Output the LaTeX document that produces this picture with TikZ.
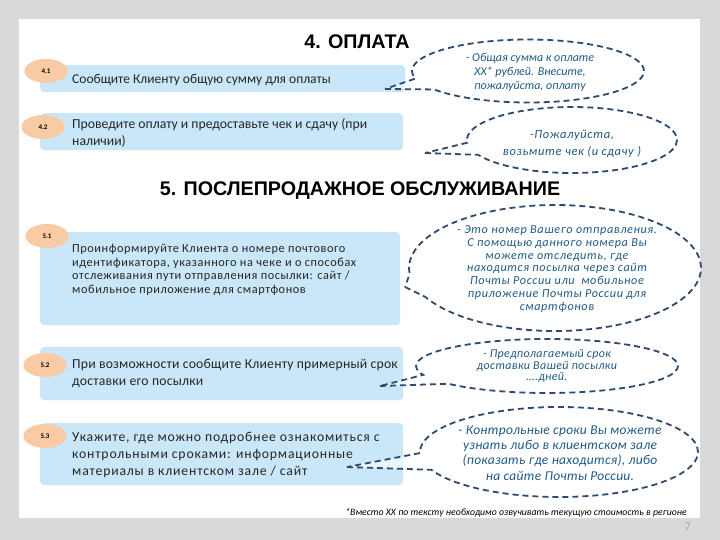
\documentclass[tikz,border=0pt]{standalone}
\usepackage{fontspec}
\setmainfont{Carlito}
\newfontfamily\titlefont{Liberation Sans}
\usetikzlibrary{shapes.callouts,shapes.geometric}
\definecolor{bgray}{HTML}{D9D9D9}
\definecolor{barblue}{HTML}{C9E7F8}
\definecolor{peach}{HTML}{F8CBA4}
\definecolor{dashblue}{HTML}{2E4B6F}
\definecolor{calltext}{HTML}{1F5A85}
\definecolor{pagegray}{HTML}{A6A6A6}
\definecolor{bodytext}{HTML}{262626}
\begin{document}
\begin{tikzpicture}[x=1pt,y=-1pt,
  bar/.style={fill=barblue, rounded corners=4pt, draw=none, inner sep=0pt, anchor=north west},
  bartext/.style={anchor=west, align=left, inner sep=0pt, text=bodytext, font=\fontsize{13.5}{17}\selectfont},
  oval/.style={ellipse, fill=peach, draw=none, minimum width=43pt, minimum height=24pt, inner sep=0pt, text=black, font=\fontsize{7}{8}\selectfont\bfseries},
  callbox/.style={ellipse callout, draw=dashblue, line width=1.8pt, dash pattern=on 6pt off 4pt, fill=white, fill opacity=0.6, draw opacity=1, inner sep=0pt, callout pointer arc=22},
  ctext/.style={align=center, inner sep=0pt, text=calltext, font=\itshape\fontsize{12}{14}\selectfont},
  heading/.style={inner sep=0pt, text=black, font=\titlefont\bfseries\fontsize{19.7}{22}\selectfont}
]
\useasboundingbox (0,0) rectangle (720,540);
\fill[bgray] (0,0) rectangle (720,540);
\fill[white] (19,19) rectangle (700,518);

% headings
\node[heading] (h4) at (357,42) {4. ОПЛАТА};
\node[heading] (h5) at (360,191) {5. ПОСЛЕПРОДАЖНОЕ ОБСЛУЖИВАНИЕ};

% bars
\node[bar, minimum width=365pt, minimum height=27pt] (b41) at (40,65) {};
\node[bar, minimum width=363pt, minimum height=37pt] (b42) at (40,113) {};
\node[bar, minimum width=360pt, minimum height=93pt] (b51) at (40,232) {};
\node[bar, minimum width=363pt, minimum height=53pt] (b52) at (40,347) {};
\node[bar, minimum width=363pt, minimum height=62pt] (b53) at (40,423) {};

% bar texts
\node[bartext] (t41) at (72,80) {Сообщите Клиенту общую сумму для оплаты};
\node[bartext, font=\fontsize{13.7}{17}\selectfont] (t42) at (72,133) {Проведите оплату и предоставьте чек и сдачу (при\\наличии)};
\node[bartext, font=\fontsize{12.3}{13.6}\selectfont\addfontfeature{LetterSpace=4.6}] (t51) at (72,270) {Проинформируйте Клиента о номере почтового\\идентификатора, указанного на чеке и о способах\\отслеживания пути отправления посылки: сайт /\\мобильное приложение для смартфонов};
\node[bartext, font=\fontsize{13.7}{17}\selectfont\addfontfeature{LetterSpace=1.5}] (t52) at (72,373) {При возможности сообщите Клиенту примерный срок\\доставки его посылки};
\node[bartext, font=\fontsize{13.7}{17}\selectfont\addfontfeature{LetterSpace=6}] (t53) at (72,455) {Укажите, где можно подробнее ознакомиться с\\контрольными сроками: информационные\\материалы в клиентском зале / сайт};

% number ovals
\node[oval] (o41) at (46,71) {4.1};
\node[oval] (o42) at (43,127) {4.2};
\node[oval] (o51) at (47,236) {5.1};
\node[oval] (o52) at (45,365) {5.2};
\node[oval] (o53) at (45,436) {5.3};

% callouts
\coordinate (p41) at (385,89);
\coordinate (p42) at (425,153);
\coordinate (p51) at (405,287);
\coordinate (p52) at (380,386);
\coordinate (p53) at (347,467);

\node[callbox, minimum width=232pt, minimum height=63pt, callout absolute pointer=(p41)] (c41) at (528,71) {};
\node[callbox, minimum width=210pt, minimum height=66pt, callout absolute pointer=(p42)] (c42) at (572,140) {};
\node[callbox, minimum width=292pt, minimum height=126pt, callout absolute pointer=(p51)] (c51) at (555,268) {};
\node[callbox, minimum width=262pt, minimum height=54pt, callout absolute pointer=(p52)] (c52) at (547,366) {};
\node[callbox, minimum width=278pt, minimum height=90pt, callout absolute pointer=(p53)] (c53) at (559,452) {};

\node[ctext] (ct41) at (530,72) {- Общая сумма к оплате\\XX* рублей. Внесите,\\пожалуйста, оплату};
\node[ctext, font=\itshape\fontsize{12.5}{17}\selectfont\addfontfeature{LetterSpace=5}] (ct42) at (572,144) {-Пожалуйста,\\возьмите чек (и сдачу )};
\node[ctext, font=\itshape\fontsize{12.2}{12.7}\selectfont\addfontfeature{LetterSpace=5}] (ct51) at (557,269) {- Это номер Вашего отправления.\\С помощью данного номера Вы\\можете отследить, где\\находится посылка через сайт\\Почты России или~ мобильное\\приложение Почты России для\\смартфонов};
\node[ctext, font=\itshape\fontsize{12}{11.8}\selectfont\addfontfeature{LetterSpace=3}] (ct52) at (547,366) {- Предполагаемый срок\\доставки Вашей посылки\\….дней.};
\node[ctext, font=\itshape\fontsize{13.5}{15.3}\selectfont\addfontfeature{LetterSpace=2}] (ct53) at (560,453) {- Контрольные сроки Вы можете\\узнать либо в клиентском зале\\(показать где находится), либо\\на сайте Почты России.};

% footnote and page number
\node[inner sep=0pt, font=\itshape\fontsize{9.8}{11}\selectfont, text=black] (fn) at (516,513) {*Вместо XX по тексту необходимо озвучивать текущую стоимость в регионе};
\node[inner sep=0pt, font=\fontsize{12}{14}\selectfont, text=pagegray] (pg) at (688,527) {7};
\end{tikzpicture}
\end{document}
